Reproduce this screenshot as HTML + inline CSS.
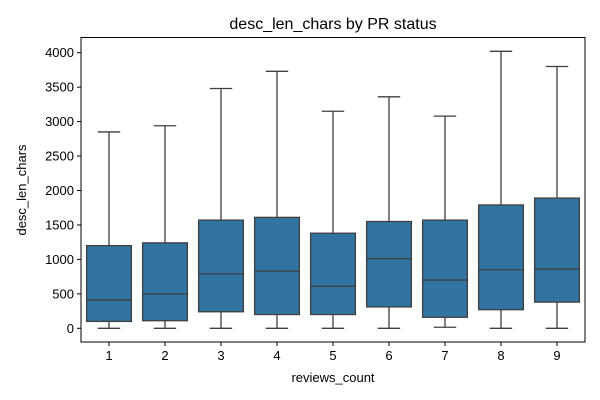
<!DOCTYPE html>
<html><head><meta charset="utf-8"><style>
body{margin:0;background:#fff;}
svg{display:block;font-family:"Liberation Sans","DejaVu Sans",sans-serif;}
</style></head><body>
<svg id="chart" width="600" height="400" viewBox="0 0 600 400">
<rect width="600" height="400" fill="#fff"/>
<text x="333" y="29" font-size="16" text-anchor="middle" fill="#000">desc_len_chars by PR status</text>
<text x="333" y="382" font-size="13" text-anchor="middle" fill="#000">reviews_count</text>
<text transform="translate(26,190) rotate(-90)" font-size="13" text-anchor="middle" fill="#000">desc_len_chars</text>
<g id="marks"></g>
<rect x="81" y="37.5" width="504" height="304.5" fill="none" stroke="#000" stroke-width="1"/>
</svg>
<script>
const categories = ["1","2","3","4","5","6","7","8","9"];
const whiskerLow = [0,0,0,0,0,0,15,0,0];
const q1 = [100,110,240,200,200,310,160,270,380];
const medians = [410,500,790,830,610,1010,700,850,860];
const q3 = [1200,1240,1570,1610,1380,1550,1570,1790,1890];
const whiskerHigh = [2850,2940,3480,3730,3150,3360,3080,4020,3800];
const yTicks = [0,500,1000,1500,2000,2500,3000,3500,4000];

const NS = "http://www.w3.org/2000/svg";
const L = 81, R = 585, T = 37.5, B = 342;
function yScale(v){ return 328.3 - v * (275.6/4000); }
function xScale(i){ return L + (i + 0.5) * (R - L) / categories.length; }
const g = document.getElementById('marks');
const svg = document.getElementById('chart');
function mk(tag, attrs){ const e = document.createElementNS(NS, tag); for (const k in attrs) e.setAttribute(k, attrs[k]); return e; }

yTicks.forEach(v => {
  const y = yScale(v);
  const t = mk('line', {x1: L-4, x2: L, y1: y, y2: y, stroke: '#000'});
  
  
  svg.appendChild(t);
  const tx = mk('text', {x: L-7, y: y+4.5, 'font-size': 13, 'text-anchor': 'end', fill: '#000'});
  tx.textContent = v;
  
  
  svg.appendChild(tx);
});
categories.forEach((c, i) => {
  const x = xScale(i);
  const t = mk('line', {x1: x, x2: x, y1: B, y2: B+4, stroke: '#000'});
  
  
  svg.appendChild(t);
  const tx = mk('text', {x: x, y: B+18, 'font-size': 13, 'text-anchor': 'middle', fill: '#000'});
  tx.textContent = c;
  
  
  svg.appendChild(tx);

  const bw = 0.8 * (R - L) / categories.length;
  const cap = bw / 2;
  const col = '#3f3f3f';
  const w1 = mk('line', {x1: x, x2: x, y1: yScale(whiskerLow[i]), y2: yScale(q1[i]), stroke: col, 'stroke-width': 1.3});
  
  
  g.appendChild(w1);
  const w2 = mk('line', {x1: x, x2: x, y1: yScale(q3[i]), y2: yScale(whiskerHigh[i]), stroke: col, 'stroke-width': 1.3});
  
  
  g.appendChild(w2);
  const c1 = mk('line', {x1: x-cap/2, x2: x+cap/2, y1: yScale(whiskerLow[i]), y2: yScale(whiskerLow[i]), stroke: col, 'stroke-width': 1.3});
  
  
  g.appendChild(c1);
  const c2 = mk('line', {x1: x-cap/2, x2: x+cap/2, y1: yScale(whiskerHigh[i]), y2: yScale(whiskerHigh[i]), stroke: col, 'stroke-width': 1.3});
  
  
  g.appendChild(c2);
  const box = mk('rect', {x: x-bw/2, y: yScale(q3[i]), width: bw, height: yScale(q1[i]) - yScale(q3[i]), fill: '#3274a1', stroke: col, 'stroke-width': 1.3});
  
  
  g.appendChild(box);
  const m = mk('line', {x1: x-bw/2, x2: x+bw/2, y1: yScale(medians[i]), y2: yScale(medians[i]), stroke: col, 'stroke-width': 1.3});
  
  
  g.appendChild(m);
});
</script>
</body></html>
